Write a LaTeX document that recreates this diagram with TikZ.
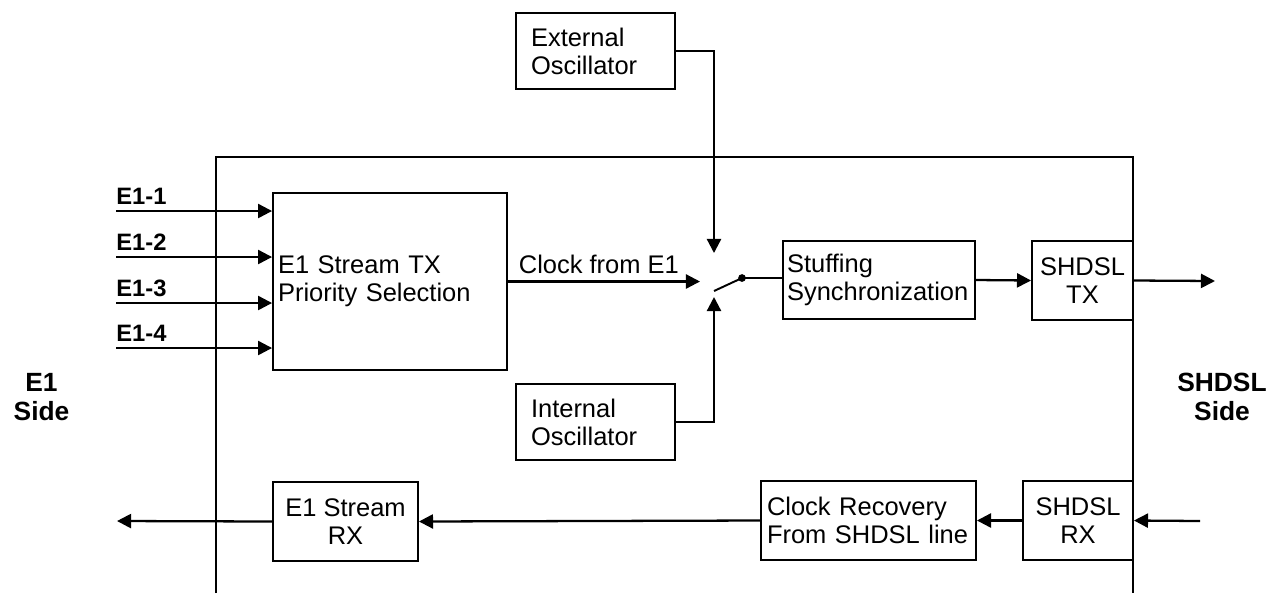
\documentclass[tikz,border=0pt]{standalone}
\usepackage{fontspec}
\setmainfont{Liberation Sans}
\usetikzlibrary{positioning}
\usetikzlibrary{arrows.meta}
\usetikzlibrary{calc}

\tikzset{
  blk/.style={draw, line width=1.1pt, inner sep=0pt, font=\fontsize{14.5pt}{16pt}\selectfont},
  arr/.style={line width=1.3pt, -{Triangle[length=8pt,width=8pt]}},
  wire/.style={line width=1.1pt},
  lbl/.style={inner sep=0pt, font=\fontsize{13.5pt}{16pt}\selectfont\bfseries},
  side/.style={inner sep=0pt, align=center, font=\fontsize{15pt}{16.5pt}\selectfont\bfseries},
}

\begin{document}
\begin{tikzpicture}[x=0.02cm, y=-0.02cm]
    \useasboundingbox (0,0) rectangle (1277,593);

    % modem frame, open at the bottom
    \draw[line width=1.1pt] (216,593) -- (216,157) -- (1133,157) -- (1133,593);

    % transmit path blocks
    \node[blk, minimum width=4.68cm, minimum height=3.54cm, text width=4.48cm, align=left] (tx) at (390,281.5) {E1 Stream TX\\Priority Selection};
    \node[blk, minimum width=3.18cm, minimum height=1.52cm, text width=2.58cm, align=left] (ext) at (595.5,51) {External\\Oscillator};
    \node[blk, minimum width=3.18cm, minimum height=1.52cm, text width=2.58cm, align=left] (int) at (595.5,422) {Internal\\Oscillator};
    \node[blk, minimum width=3.84cm, minimum height=1.56cm, text width=3.68cm, align=left] (stuff) at (879,280) {Stuffing\\Synchronization};
    \node[blk, minimum width=2.02cm, minimum height=1.58cm, align=center] (shtx) at (1082.5,280.5) {SHDSL\\TX};

    % receive path blocks
    \node[blk, minimum width=2.2cm, minimum height=1.58cm, align=center] (shrx) at (1078,520.5) {SHDSL\\RX};
    \node[blk, minimum width=4.3cm, minimum height=1.58cm, text width=4.06cm, align=left] (rec) at (868.5,520.5) {Clock Recovery\\From SHDSL line};
    \node[blk, minimum width=2.9cm, minimum height=1.58cm, align=center] (rx) at (345.5,521.5) {E1 Stream\\RX};

    % side names
    \node[side] (e1side) at (41.5,397) {E1\\Side};
    \node[side] (shside) at (1222,397) {SHDSL\\Side};

    % E1 inputs
    \foreach \i/\y in {1/211,2/257,3/303,4/348}{
        \coordinate (in\i) at (116,\y);
        \draw[arr] (in\i) -- (tx.west |- in\i);
        \node[lbl, anchor=south west] (e1in\i) at ($(in\i)+(0,-6)$) {E1-\i};
    }

    % clock switch
    \coordinate (swin) at (700,281.5);
    \coordinate (swtop) at (714,253);
    \coordinate (swbot) at (714,297);
    \coordinate (swpole) at (714,291);
    \coordinate (swdot) at (742,278);
    \draw[arr] (tx.east) -- (swin);
    \node[blk, anchor=south west, draw=none] (clk) at ($(tx.east)+(10,-7)$) {Clock from E1};
    \draw[arr] (ext.east) -| (swtop);
    \draw[arr] (int.east) -| (swbot);
    \draw[wire] (swpole) -- (swdot);
    \fill (swdot) circle (2.2pt);
    \draw[wire] (swdot) -- (swdot -| stuff.west);

    \draw[arr] (stuff.east) -- (shtx.west);
    \coordinate (txout) at (1215,281);
    \draw[arr] (shtx.east) -- (txout);

    % receive direction
    \coordinate (rxin) at (1200,521);
    \coordinate (rxout) at (117,521);
    \draw[arr] (rxin) -- (shrx.east);
    \draw[arr] (shrx.west) -- (rec.east);
    \draw[arr] (rec.west) -- (rx.east);
    \draw[arr] (rx.west) -- (rxout);
\end{tikzpicture}
\end{document}
